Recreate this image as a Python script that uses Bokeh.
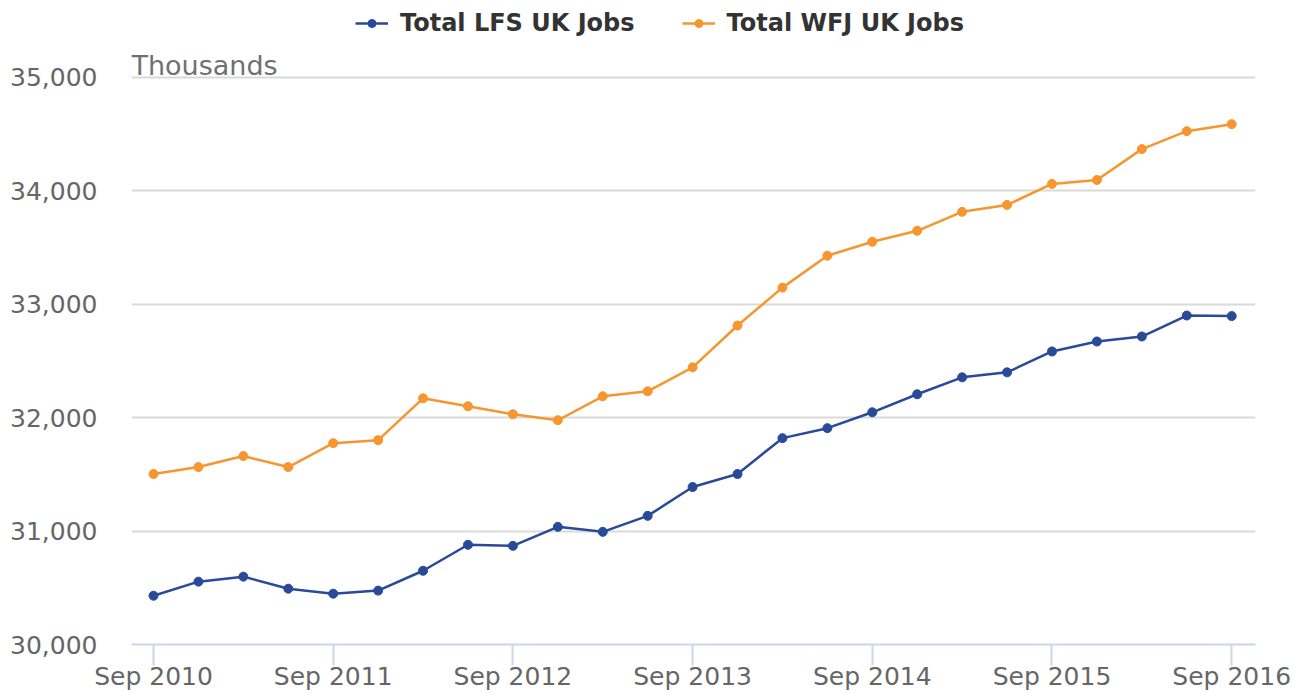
from bokeh.plotting import figure
from bokeh.models import ColumnDataSource, FixedTicker, Range1d, Legend, LegendItem, Label, NumeralTickFormatter
from bokeh.embed import file_html
from bokeh.resources import INLINE

quarters = ["Sep 2010", "Dec 2010", "Mar 2011", "Jun 2011", "Sep 2011", "Dec 2011", "Mar 2012",
            "Jun 2012", "Sep 2012", "Dec 2012", "Mar 2013", "Jun 2013", "Sep 2013", "Dec 2013",
            "Mar 2014", "Jun 2014", "Sep 2014", "Dec 2014", "Mar 2015", "Jun 2015", "Sep 2015",
            "Dec 2015", "Mar 2016", "Jun 2016", "Sep 2016"]
lfs = [30430, 30554, 30598, 30492, 30448, 30475, 30650, 30879, 30870, 31037, 30993, 31134,
       31388, 31503, 31819, 31907, 32047, 32206, 32355, 32399, 32583, 32671, 32715, 32900, 32895]
wfj = [31503, 31564, 31661, 31564, 31775, 31801, 32170, 32100, 32030, 31977, 32188, 32232,
       32443, 32812, 33146, 33427, 33550, 33647, 33814, 33875, 34060, 34095, 34367, 34525, 34587]
tick_labels = ["Sep 2010", "Sep 2011", "Sep 2012", "Sep 2013", "Sep 2014", "Sep 2015", "Sep 2016"]
y_ticks = [30000, 31000, 32000, 33000, 34000, 35000]

xs = list(range(len(quarters)))
tick_pos = [quarters.index(t) for t in tick_labels]

BLUE = "#284a98"
ORANGE = "#f5962f"
FONT = "DejaVu Sans"

p = figure(width=1300, height=693, output_backend="svg", toolbar_location=None,
           x_range=Range1d(-0.49, 24.53), y_range=Range1d(30000, 35677),
           min_border_left=131, min_border_right=45, min_border_top=0, min_border_bottom=47)
p.outline_line_color = None
p.background_fill_color = "white"
p.border_fill_color = "white"

src = ColumnDataSource(dict(x=xs, lfs=lfs, wfj=wfj))
l1 = p.line("x", "lfs", source=src, line_color=BLUE, line_width=2.5)
s1 = p.scatter("x", "lfs", source=src, size=9, fill_color=BLUE, line_color=BLUE)
l2 = p.line("x", "wfj", source=src, line_color=ORANGE, line_width=2.5)
s2 = p.scatter("x", "wfj", source=src, size=9, fill_color=ORANGE, line_color=ORANGE)

# x axis
p.xaxis.ticker = FixedTicker(ticks=tick_pos)
p.xaxis.major_label_overrides = {i: t for i, t in zip(tick_pos, tick_labels)}
p.xaxis.axis_line_color = "#ccd6eb"
p.xaxis.axis_line_width = 2
p.xaxis.major_tick_line_color = "#ccd6eb"
p.xaxis.major_tick_line_width = 2
p.xaxis.major_tick_out = 21
p.xaxis.major_tick_in = 0
p.xaxis.minor_tick_line_color = None
p.xaxis.major_label_standoff = -4
p.xaxis.major_label_text_font = FONT
p.xaxis.major_label_text_font_size = "25px"
p.xaxis.major_label_text_color = "#666666"
p.xgrid.grid_line_color = None

# y axis
p.yaxis.ticker = FixedTicker(ticks=y_ticks)
p.yaxis.formatter = NumeralTickFormatter(format="0,0")
p.yaxis.axis_line_color = None
p.yaxis.major_tick_line_color = None
p.yaxis.minor_tick_line_color = None
p.yaxis.major_tick_out = 0
p.yaxis.major_label_standoff = 34
p.yaxis.major_label_text_font = FONT
p.yaxis.major_label_text_font_size = "25px"
p.yaxis.major_label_text_color = "#666666"
p.ygrid.grid_line_color = "#d9d9d9"
p.ygrid.grid_line_width = 2

p.add_layout(Label(x=-0.49, y=35000, text="Thousands", text_font=FONT, text_font_size="27px",
                   text_color="#707070", text_baseline="bottom", y_offset=-4))

legend = Legend(items=[LegendItem(label="Total LFS UK Jobs", renderers=[l1, s1]),
                       LegendItem(label="Total WFJ UK Jobs", renderers=[l2, s2])],
                orientation="horizontal", location=(224, 607))
legend.label_text_font = FONT
legend.label_text_font_style = "bold"
legend.label_text_font_size = "24px"
legend.label_text_color = "#333333"
legend.glyph_width = 33
legend.label_standoff = 12
legend.spacing = 47
legend.padding = 0
legend.margin = 0
legend.border_line_color = None
legend.background_fill_alpha = 0
p.add_layout(legend, "center")

open("out.html", "w").write(file_html(p, INLINE))
